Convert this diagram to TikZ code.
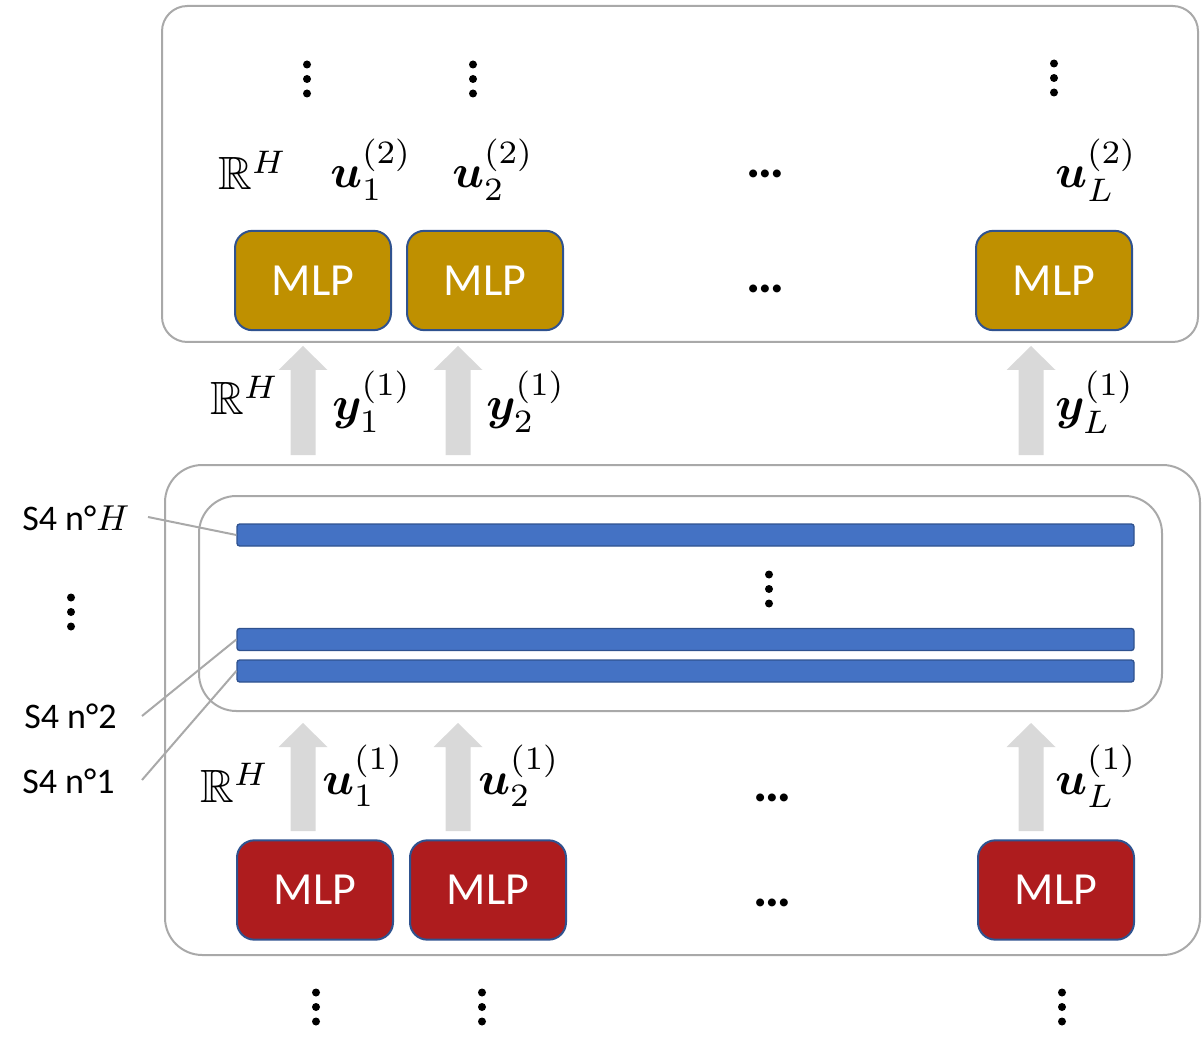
\documentclass[tikz,border=0pt]{standalone}
\usepackage{amsmath,amssymb}
\usepackage{bm}
\usepackage{graphicx}
\usepackage{fontspec}
\setmainfont{Carlito}
\usetikzlibrary{calc}

\definecolor{framegray}{HTML}{A9A9A9}
\definecolor{arrowgray}{HTML}{D9D9D9}
\definecolor{mlpgold}{HTML}{BF9000}
\definecolor{mlpred}{HTML}{AE1C1E}
\definecolor{edgeblue}{HTML}{2F528F}
\definecolor{barblue}{HTML}{4472C4}

% large math, scaled up from the design size
\newcommand{\bigmath}[1]{\scalebox{3.5}{$#1$}}
% italic H beside the layer names
\newcommand{\layerH}{{\fontsize{10}{12}\selectfont\scalebox{2.7}{$H$}}}

\begin{document}
\begin{tikzpicture}[x=0.75pt,y=-0.75pt,
  frame/.style={draw=framegray, line width=1.5pt, inner sep=0pt},
  mlpbox/.style={draw=edgeblue, line width=1.5pt, rounded corners=13pt,
    minimum width=117pt, minimum height=74.5pt, inner sep=0pt, text=white,
    font=\fontsize{34.5}{40}\selectfont},
  s4bar/.style={draw=edgeblue, line width=1pt, fill=barblue, rounded corners=2pt,
    minimum width=672.75pt, minimum height=16.5pt, inner sep=0pt},
  lbl/.style={anchor=base west, inner sep=0pt, font=\fontsize{10}{12}\selectfont},
  hdots/.style={anchor=base, inner sep=0pt, font=\fontsize{40}{46}\selectfont\bfseries},
  s4lbl/.style={anchor=base west, inner sep=0pt, font=\fontsize{27}{32}\selectfont},
  leader/.style={draw=framegray, line width=1.5pt},
  dot/.style={circle, fill=black, minimum size=6pt, inner sep=0pt}
]
\useasboundingbox (0,0) rectangle (1203,1037);

% block arrow: centre x, bottom y, tip y
\newcommand{\blockarrow}[3]{%
  \fill[arrowgray] ({#1-12.5},#2) -- ({#1+12.5},#2) -- ({#1+12.5},{#3+24})
    -- ({#1+24.5},{#3+24}) -- (#1,#3) -- ({#1-24.5},{#3+24})
    -- ({#1-12.5},{#3+24}) -- cycle;}
% vertical ellipsis made of three dots
\newcommand{\vdotsat}[3]{%
  \node[dot] (#1a) at (#2,{#3-14.5}) {};
  \node[dot] (#1b) at (#2,#3) {};
  \node[dot] (#1c) at (#2,{#3+14.5}) {};}

% frames
\node[frame, rounded corners=19pt, minimum width=777pt, minimum height=252pt] (top) at (680,174) {};
\node[frame, rounded corners=28pt, minimum width=776.25pt, minimum height=367.5pt] (bottom) at (682.5,710) {};
\node[frame, rounded corners=28pt, minimum width=722.25pt, minimum height=161.25pt] (inner) at (680.5,603.5) {};

% S4 layers
\node[s4bar] (barH) at (685.5,535) {};
\node[s4bar] (bar2) at (685.5,639.5) {};
\node[s4bar] (bar1) at (685.5,671) {};

% upper MLPs
\node[mlpbox, fill=mlpgold] (g1) at (313,280.5) {MLP};
\node[mlpbox, fill=mlpgold] (g2) at (485,280.5) {MLP};
\node[mlpbox, fill=mlpgold] (gL) at (1054,280.5) {MLP};

% lower MLPs
\node[mlpbox, fill=mlpred] (r1) at (315,890) {MLP};
\node[mlpbox, fill=mlpred] (r2) at (488,890) {MLP};
\node[mlpbox, fill=mlpred] (rL) at (1056,890) {MLP};

% block arrows
\blockarrow{303}{455}{346}
\blockarrow{458}{455}{346}
\blockarrow{1031}{455}{346}
\blockarrow{303}{831}{723}
\blockarrow{458}{831}{723}
\blockarrow{1031}{831}{723}

% labels inside the upper frame
\node[lbl] (rh2) at (218,190) {\bigmath{\mathbb{R}^{H}}};
\node[lbl] (u21) at (330,188) {\bigmath{\bm{u}_{1}^{(2)}}};
\node[lbl] (u22) at (452,188) {\bigmath{\bm{u}_{2}^{(2)}}};
\node[lbl] (u2L) at (1055,188) {\bigmath{\bm{u}_{L}^{(2)}}};
\node[hdots] (hd1) at (765,178) {…};
\node[hdots] (hd2) at (765,293) {…};

% labels between the frames
\node[lbl] (rh1) at (210,415) {\bigmath{\mathbb{R}^{H}}};
\node[lbl] (y1) at (332,420) {\bigmath{\bm{y}_{1}^{(1)}}};
\node[lbl] (y2) at (486,420) {\bigmath{\bm{y}_{2}^{(1)}}};
\node[lbl] (yL) at (1055,420) {\bigmath{\bm{y}_{L}^{(1)}}};

% labels inside the lower frame
\node[lbl] (rh0) at (200,802) {\bigmath{\mathbb{R}^{H}}};
\node[lbl] (u11) at (322,794) {\bigmath{\bm{u}_{1}^{(1)}}};
\node[lbl] (u12) at (478,794) {\bigmath{\bm{u}_{2}^{(1)}}};
\node[lbl] (u1L) at (1055,794) {\bigmath{\bm{u}_{L}^{(1)}}};
\node[hdots] (hd3) at (772,801) {…};
\node[hdots] (hd4) at (772,906) {…};

% S4 layer names with leaders
\node[s4lbl] (nH) at (22,530) {S4 n°\layerH};
\node[s4lbl] (n2) at (24,728) {S4 n°2};
\node[s4lbl] (n1) at (22,793) {S4 n°1};
\coordinate (lH) at (148,517);
\coordinate (l2) at (142,716);
\coordinate (l1) at (142,780);
\draw[leader] (lH) -- (barH.west);
\draw[leader] (l2) -- (bar2.west);
\draw[leader] (l1) -- (bar1.west);

% vertical ellipses
\vdotsat{vt1}{307}{79}
\vdotsat{vt2}{473}{79}
\vdotsat{vtL}{1054}{78}
\vdotsat{vin}{769}{589}
\vdotsat{vlf}{71}{612}
\vdotsat{vb1}{316}{1007}
\vdotsat{vb2}{482}{1007}
\vdotsat{vbL}{1062}{1007}
\end{tikzpicture}
\end{document}
